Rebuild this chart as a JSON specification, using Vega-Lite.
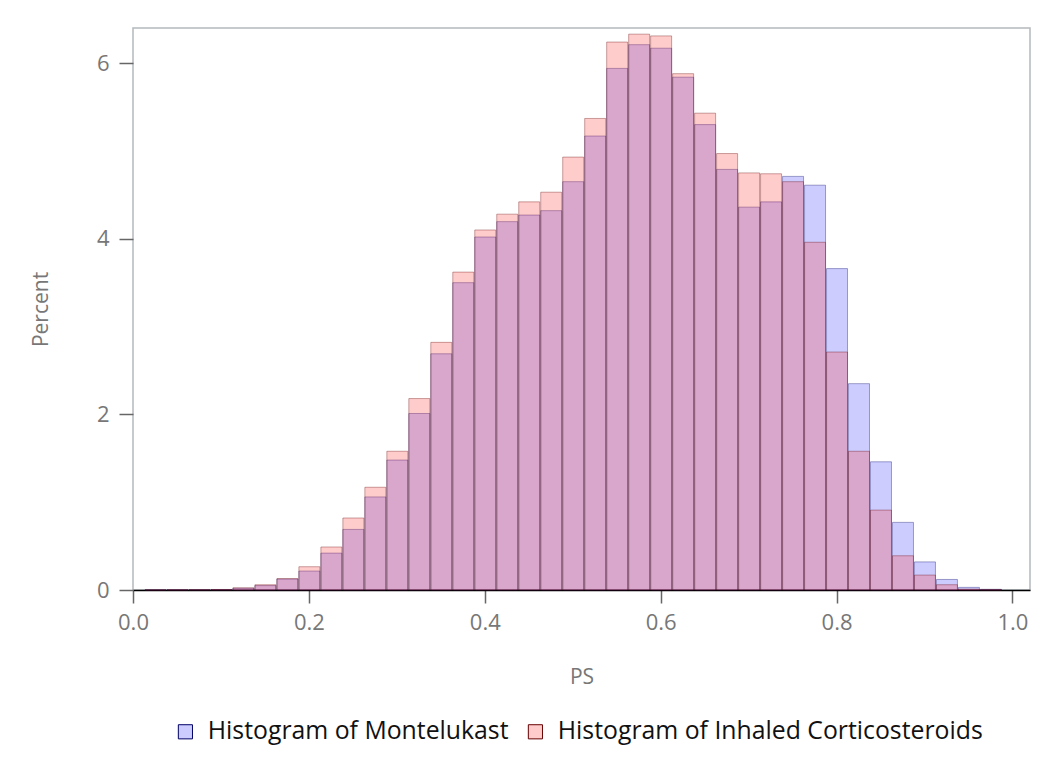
{
  "$schema": "https://vega.github.io/schema/vega-lite/v6.json",
  "autosize": {"type": "none"},
  "padding": {"left": 133, "top": 28, "right": 17, "bottom": 176},
  "width": 897,
  "height": 562,
  "background": "white",
  "config": {
    "view": {"stroke": "#b4b9bd", "strokeWidth": 1.5},
    "font": "Open Sans",
    "axis": {"grid": false}
  },
  "data": {
    "values": [
      {"group": "Histogram of Montelukast", "bin_start": 0.0125, "bin_end": 0.0375, "percent": 0.002},
      {"group": "Histogram of Montelukast", "bin_start": 0.0375, "bin_end": 0.0625, "percent": 0.003},
      {"group": "Histogram of Montelukast", "bin_start": 0.0625, "bin_end": 0.0875, "percent": 0.004},
      {"group": "Histogram of Montelukast", "bin_start": 0.0875, "bin_end": 0.1125, "percent": 0.006},
      {"group": "Histogram of Montelukast", "bin_start": 0.1125, "bin_end": 0.1375, "percent": 0.02},
      {"group": "Histogram of Montelukast", "bin_start": 0.1375, "bin_end": 0.1625, "percent": 0.05},
      {"group": "Histogram of Montelukast", "bin_start": 0.1625, "bin_end": 0.1875, "percent": 0.125},
      {"group": "Histogram of Montelukast", "bin_start": 0.1875, "bin_end": 0.2125, "percent": 0.216},
      {"group": "Histogram of Montelukast", "bin_start": 0.2125, "bin_end": 0.2375, "percent": 0.42},
      {"group": "Histogram of Montelukast", "bin_start": 0.2375, "bin_end": 0.2625, "percent": 0.69},
      {"group": "Histogram of Montelukast", "bin_start": 0.2625, "bin_end": 0.2875, "percent": 1.06},
      {"group": "Histogram of Montelukast", "bin_start": 0.2875, "bin_end": 0.3125, "percent": 1.48},
      {"group": "Histogram of Montelukast", "bin_start": 0.3125, "bin_end": 0.3375, "percent": 2.01},
      {"group": "Histogram of Montelukast", "bin_start": 0.3375, "bin_end": 0.3625, "percent": 2.69},
      {"group": "Histogram of Montelukast", "bin_start": 0.3625, "bin_end": 0.3875, "percent": 3.50},
      {"group": "Histogram of Montelukast", "bin_start": 0.3875, "bin_end": 0.4125, "percent": 4.02},
      {"group": "Histogram of Montelukast", "bin_start": 0.4125, "bin_end": 0.4375, "percent": 4.195},
      {"group": "Histogram of Montelukast", "bin_start": 0.4375, "bin_end": 0.4625, "percent": 4.27},
      {"group": "Histogram of Montelukast", "bin_start": 0.4625, "bin_end": 0.4875, "percent": 4.32},
      {"group": "Histogram of Montelukast", "bin_start": 0.4875, "bin_end": 0.5125, "percent": 4.65},
      {"group": "Histogram of Montelukast", "bin_start": 0.5125, "bin_end": 0.5375, "percent": 5.17},
      {"group": "Histogram of Montelukast", "bin_start": 0.5375, "bin_end": 0.5625, "percent": 5.94},
      {"group": "Histogram of Montelukast", "bin_start": 0.5625, "bin_end": 0.5875, "percent": 6.21},
      {"group": "Histogram of Montelukast", "bin_start": 0.5875, "bin_end": 0.6125, "percent": 6.17},
      {"group": "Histogram of Montelukast", "bin_start": 0.6125, "bin_end": 0.6375, "percent": 5.84},
      {"group": "Histogram of Montelukast", "bin_start": 0.6375, "bin_end": 0.6625, "percent": 5.30},
      {"group": "Histogram of Montelukast", "bin_start": 0.6625, "bin_end": 0.6875, "percent": 4.79},
      {"group": "Histogram of Montelukast", "bin_start": 0.6875, "bin_end": 0.7125, "percent": 4.36},
      {"group": "Histogram of Montelukast", "bin_start": 0.7125, "bin_end": 0.7375, "percent": 4.42},
      {"group": "Histogram of Montelukast", "bin_start": 0.7375, "bin_end": 0.7625, "percent": 4.71},
      {"group": "Histogram of Montelukast", "bin_start": 0.7625, "bin_end": 0.7875, "percent": 4.61},
      {"group": "Histogram of Montelukast", "bin_start": 0.7875, "bin_end": 0.8125, "percent": 3.66},
      {"group": "Histogram of Montelukast", "bin_start": 0.8125, "bin_end": 0.8375, "percent": 2.35},
      {"group": "Histogram of Montelukast", "bin_start": 0.8375, "bin_end": 0.8625, "percent": 1.46},
      {"group": "Histogram of Montelukast", "bin_start": 0.8625, "bin_end": 0.8875, "percent": 0.77},
      {"group": "Histogram of Montelukast", "bin_start": 0.8875, "bin_end": 0.9125, "percent": 0.32},
      {"group": "Histogram of Montelukast", "bin_start": 0.9125, "bin_end": 0.9375, "percent": 0.12},
      {"group": "Histogram of Montelukast", "bin_start": 0.9375, "bin_end": 0.9625, "percent": 0.03},
      {"group": "Histogram of Montelukast", "bin_start": 0.9625, "bin_end": 0.9875, "percent": 0.008},
      {"group": "Histogram of Inhaled Corticosteroids", "bin_start": 0.0125, "bin_end": 0.0375, "percent": 0.001},
      {"group": "Histogram of Inhaled Corticosteroids", "bin_start": 0.0375, "bin_end": 0.0625, "percent": 0.002},
      {"group": "Histogram of Inhaled Corticosteroids", "bin_start": 0.0625, "bin_end": 0.0875, "percent": 0.003},
      {"group": "Histogram of Inhaled Corticosteroids", "bin_start": 0.0875, "bin_end": 0.1125, "percent": 0.005},
      {"group": "Histogram of Inhaled Corticosteroids", "bin_start": 0.1125, "bin_end": 0.1375, "percent": 0.025},
      {"group": "Histogram of Inhaled Corticosteroids", "bin_start": 0.1375, "bin_end": 0.1625, "percent": 0.06},
      {"group": "Histogram of Inhaled Corticosteroids", "bin_start": 0.1625, "bin_end": 0.1875, "percent": 0.13},
      {"group": "Histogram of Inhaled Corticosteroids", "bin_start": 0.1875, "bin_end": 0.2125, "percent": 0.265},
      {"group": "Histogram of Inhaled Corticosteroids", "bin_start": 0.2125, "bin_end": 0.2375, "percent": 0.49},
      {"group": "Histogram of Inhaled Corticosteroids", "bin_start": 0.2375, "bin_end": 0.2625, "percent": 0.82},
      {"group": "Histogram of Inhaled Corticosteroids", "bin_start": 0.2625, "bin_end": 0.2875, "percent": 1.17},
      {"group": "Histogram of Inhaled Corticosteroids", "bin_start": 0.2875, "bin_end": 0.3125, "percent": 1.58},
      {"group": "Histogram of Inhaled Corticosteroids", "bin_start": 0.3125, "bin_end": 0.3375, "percent": 2.18},
      {"group": "Histogram of Inhaled Corticosteroids", "bin_start": 0.3375, "bin_end": 0.3625, "percent": 2.82},
      {"group": "Histogram of Inhaled Corticosteroids", "bin_start": 0.3625, "bin_end": 0.3875, "percent": 3.62},
      {"group": "Histogram of Inhaled Corticosteroids", "bin_start": 0.3875, "bin_end": 0.4125, "percent": 4.10},
      {"group": "Histogram of Inhaled Corticosteroids", "bin_start": 0.4125, "bin_end": 0.4375, "percent": 4.28},
      {"group": "Histogram of Inhaled Corticosteroids", "bin_start": 0.4375, "bin_end": 0.4625, "percent": 4.42},
      {"group": "Histogram of Inhaled Corticosteroids", "bin_start": 0.4625, "bin_end": 0.4875, "percent": 4.53},
      {"group": "Histogram of Inhaled Corticosteroids", "bin_start": 0.4875, "bin_end": 0.5125, "percent": 4.93},
      {"group": "Histogram of Inhaled Corticosteroids", "bin_start": 0.5125, "bin_end": 0.5375, "percent": 5.37},
      {"group": "Histogram of Inhaled Corticosteroids", "bin_start": 0.5375, "bin_end": 0.5625, "percent": 6.24},
      {"group": "Histogram of Inhaled Corticosteroids", "bin_start": 0.5625, "bin_end": 0.5875, "percent": 6.33},
      {"group": "Histogram of Inhaled Corticosteroids", "bin_start": 0.5875, "bin_end": 0.6125, "percent": 6.31},
      {"group": "Histogram of Inhaled Corticosteroids", "bin_start": 0.6125, "bin_end": 0.6375, "percent": 5.88},
      {"group": "Histogram of Inhaled Corticosteroids", "bin_start": 0.6375, "bin_end": 0.6625, "percent": 5.43},
      {"group": "Histogram of Inhaled Corticosteroids", "bin_start": 0.6625, "bin_end": 0.6875, "percent": 4.97},
      {"group": "Histogram of Inhaled Corticosteroids", "bin_start": 0.6875, "bin_end": 0.7125, "percent": 4.75},
      {"group": "Histogram of Inhaled Corticosteroids", "bin_start": 0.7125, "bin_end": 0.7375, "percent": 4.74},
      {"group": "Histogram of Inhaled Corticosteroids", "bin_start": 0.7375, "bin_end": 0.7625, "percent": 4.65},
      {"group": "Histogram of Inhaled Corticosteroids", "bin_start": 0.7625, "bin_end": 0.7875, "percent": 3.96},
      {"group": "Histogram of Inhaled Corticosteroids", "bin_start": 0.7875, "bin_end": 0.8125, "percent": 2.71},
      {"group": "Histogram of Inhaled Corticosteroids", "bin_start": 0.8125, "bin_end": 0.8375, "percent": 1.58},
      {"group": "Histogram of Inhaled Corticosteroids", "bin_start": 0.8375, "bin_end": 0.8625, "percent": 0.91},
      {"group": "Histogram of Inhaled Corticosteroids", "bin_start": 0.8625, "bin_end": 0.8875, "percent": 0.39},
      {"group": "Histogram of Inhaled Corticosteroids", "bin_start": 0.8875, "bin_end": 0.9125, "percent": 0.17},
      {"group": "Histogram of Inhaled Corticosteroids", "bin_start": 0.9125, "bin_end": 0.9375, "percent": 0.06},
      {"group": "Histogram of Inhaled Corticosteroids", "bin_start": 0.9375, "bin_end": 0.9625, "percent": 0.01},
      {"group": "Histogram of Inhaled Corticosteroids", "bin_start": 0.9625, "bin_end": 0.9875, "percent": 0.003}
    ]
  },
  "mark": {"type": "bar", "fillOpacity": 0.25, "strokeOpacity": 0.35, "strokeWidth": 1},
  "encoding": {
    "x": {
      "field": "bin_start", "type": "quantitative",
      "bin": {"binned": true, "step": 0.025},
      "scale": {"domain": [0, 1.02], "nice": false, "zero": false},
      "axis": {
        "title": "PS", "values": [0, 0.2, 0.4, 0.6, 0.8, 1.0], "format": ".1f",
        "domainColor": "#000000", "domainWidth": 1.5,
        "tickColor": "#666666", "tickSize": 13, "tickWidth": 1.5,
        "labelColor": "#777777", "labelFontSize": 22, "labelPadding": 9, "labelFlush": false,
        "titleColor": "#777777", "titleFontSize": 21, "titleFontWeight": "normal", "titleY": 76, "titleBaseline": "top"
      }
    },
    "x2": {"field": "bin_end"},
    "y": {
      "field": "percent", "type": "quantitative", "stack": null,
      "scale": {"domain": [0, 6.4], "nice": false},
      "axis": {
        "title": "Percent", "values": [0, 2, 4, 6], "format": "d",
        "domain": false,
        "tickColor": "#666666", "tickSize": 14, "tickWidth": 1.5,
        "labelColor": "#777777", "labelFontSize": 22, "labelPadding": 10,
        "titleColor": "#777777", "titleFontSize": 21, "titleFontWeight": "normal", "titleX": -82, "titleY": 281, "titleAngle": 270, "titleAlign": "center", "titleBaseline": "bottom"
      }
    },
    "color": {
      "field": "group", "type": "nominal",
      "scale": {"domain": ["Histogram of Montelukast", "Histogram of Inhaled Corticosteroids"], "range": ["#3333ff", "#ff3333"]},
      "legend": {
        "title": null, "orient": "none", "direction": "horizontal", "columns": 2,
        "legendX": 40, "legendY": 691,
        "symbolType": "square", "symbolSize": 200, "symbolStrokeWidth": 1,
        "labelFontSize": 24.8, "labelColor": "#111111", "labelOffset": 10, "columnPadding": 14,
        "labelLimit": 600,
        "encode": {"symbols": {"update": {"fillOpacity": {"value": 0.25}, "stroke": {"value": "#000000"}, "strokeOpacity": {"value": 1}, "opacity": {"value": 1}}}}
      }
    },
    "stroke": {
      "field": "group", "type": "nominal",
      "scale": {"domain": ["Histogram of Montelukast", "Histogram of Inhaled Corticosteroids"], "range": ["#000066", "#660000"]},
      "legend": null
    }
  }
}
